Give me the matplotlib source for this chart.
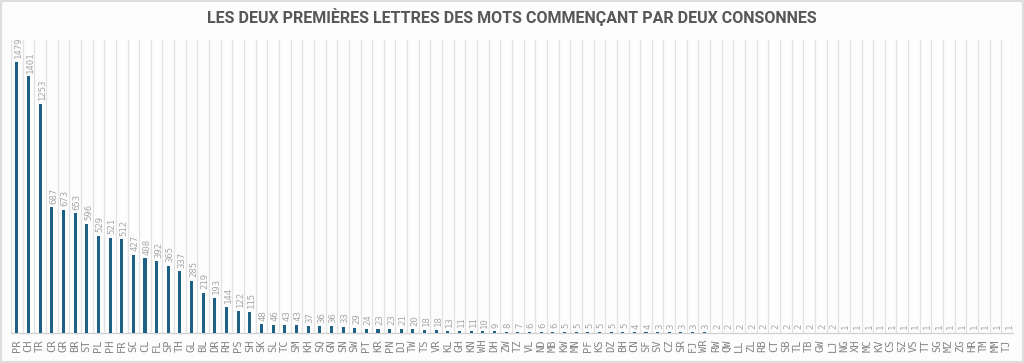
import matplotlib.pyplot as plt
import numpy as np

letters = ["PR", "CH", "TR", "CR", "GR", "BR", "ST", "PL", "PH", "FR",
           "SC", "CL", "FL", "SP", "TH", "GL", "BL", "DR", "RH", "PS",
           "SH", "SK", "SL", "TC", "SM", "KH", "SQ", "GN", "SN", "SW",
           "PT", "KR", "PN", "DJ", "TW", "TS", "VR", "KL", "GH", "KN",
           "WH", "DH", "ZW", "TZ", "VL", "ND", "MB", "KW", "MN", "PF",
           "KS", "DZ", "BH", "CN", "SF", "SV", "CZ", "SR", "FJ", "WR",
           "RW", "QW", "LL", "ZL", "RB", "CT", "SB", "TL", "TB", "GW",
           "LJ", "NG", "XH", "MC", "KV", "CS", "SZ", "VS", "TT", "SG",
           "MZ", "ZG", "HR", "TM", "MM", "TJ"]
counts = [1479, 1401, 1253, 687, 673, 653, 596, 529, 521, 512,
          427, 408, 392, 365, 337, 285, 219, 193, 144, 122,
          115, 48, 46, 43, 43, 37, 36, 36, 33, 29,
          24, 23, 23, 21, 20, 18, 18, 13, 11, 11,
          10, 9, 8, 7, 6, 6, 6, 5, 5, 5,
          5, 5, 5, 4, 4, 3, 3, 3, 3, 3,
          2, 2, 2, 2, 2, 2, 2, 2, 2, 2,
          2, 1, 1, 1, 1, 1, 1, 1, 1, 1,
          1, 1, 1, 1, 1, 1]

bar_color = "#1d6185"
bg = "#fdfdfd"

fig = plt.figure(figsize=(10.24, 3.63), dpi=100, facecolor=bg)
ax = fig.add_axes([11 / 1024, 1 - 333 / 363, 1002 / 1024, 293 / 363])
ax.set_facecolor(bg)

x = np.arange(len(letters))
ax.bar(x, counts, width=0.26, color=bar_color, zorder=3)

# gridlines at category boundaries
for b in np.arange(-0.5, len(letters), 1.0):
    ax.axvline(b, color="#e2e2e2", lw=0.9, zorder=1)

for xi, v in zip(x, counts):
    ax.text(xi + 0.15, v + 20, str(v), rotation=90, ha="center", va="bottom",
            fontsize=6.5, color="#a8a8a8", family="DejaVu Sans Mono")

ax.set_xlim(-0.5, len(letters) - 0.5)
ax.set_ylim(0, 1600)
ax.set_yticks([])
ax.set_xticks(x)
ax.set_xticklabels(letters, rotation=90, fontsize=7.5, color="#858585",
                   family="DejaVu Sans Mono")
ax.tick_params(axis="x", length=0, pad=5)
for s in ["top", "right", "left"]:
    ax.spines[s].set_visible(False)
ax.spines["bottom"].set_color("#d0d0d0")
ax.spines["bottom"].set_linewidth(0.9)

fig.text(0.5, 1 - 17 / 363, "LES DEUX PREMIÈRES LETTRES DES MOTS COMMENÇANT PAR DEUX CONSONNES",
         ha="center", va="center", fontsize=11.5, fontweight="bold",
         color="#575757", family="Roboto")

# light frame around the picture
fig.patches.append(plt.Rectangle((0.001, 0.002), 0.998, 0.996, transform=fig.transFigure,
                                 fill=False, edgecolor="#dedede", lw=1.5))

fig.savefig("out.png", dpi=100, facecolor=bg)
